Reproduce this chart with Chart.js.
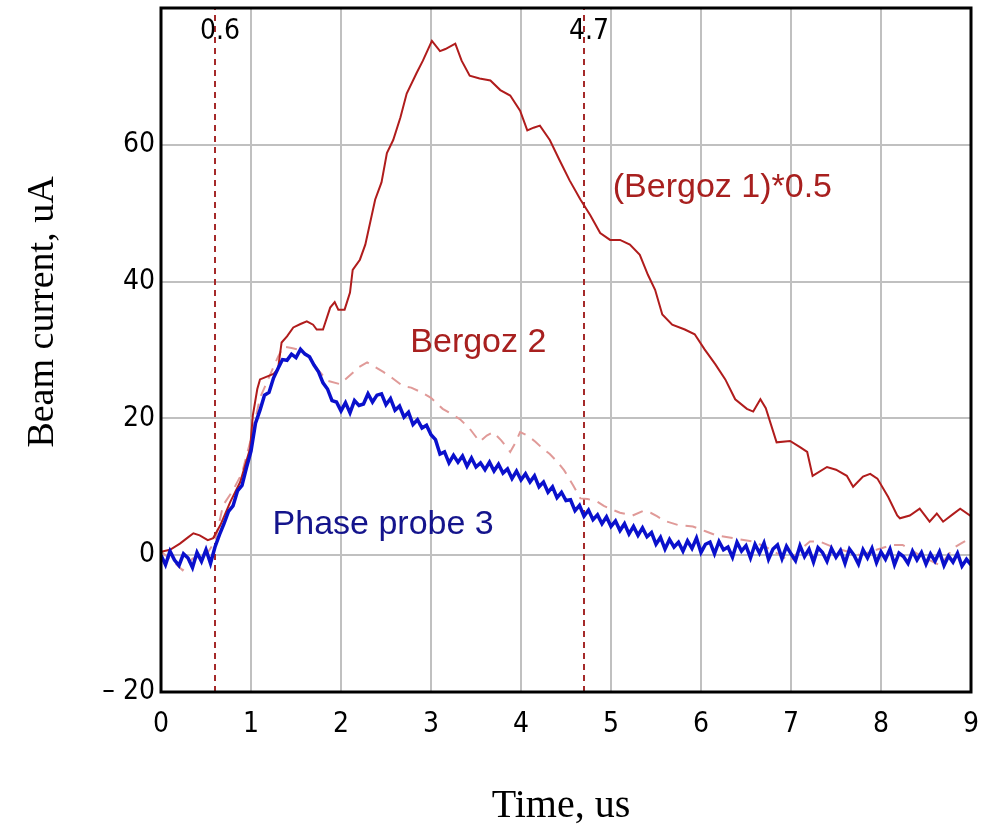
<!DOCTYPE html>
<html>
<head>
<meta charset="utf-8">
<script src="https://cdn.jsdelivr.net/npm/chart.js@4.4.1/dist/chart.umd.min.js"></script>
<style>
  html, body { margin: 0; padding: 0; background: #fff; }
  #wrap { width: 986px; height: 828px; }
</style>
</head>
<body>
<div id="wrap"><canvas id="beamChart" width="986" height="828"></canvas></div>
<script>
// Bergoz 1 (scaled by 0.5)
const bergoz1Times = [0, 0.1, 0.21, 0.3, 0.36, 0.43, 0.52, 0.58, 0.66, 0.77,
  0.88, 0.99, 1.02, 1.07, 1.1, 1.25, 1.3, 1.34, 1.4, 1.47,
  1.55, 1.62, 1.69, 1.73, 1.8, 1.88, 1.93, 1.97, 2.04, 2.1,
  2.13, 2.21, 2.27, 2.38, 2.45, 2.51, 2.58, 2.66, 2.73, 2.84,
  2.91, 3.01, 3.1, 3.16, 3.27, 3.34, 3.43, 3.54, 3.66, 3.77,
  3.88, 3.99, 4.07, 4.14, 4.21, 4.32, 4.43, 4.54, 4.66, 4.77,
  4.88, 4.99, 5.1, 5.21, 5.32, 5.41, 5.49, 5.57, 5.68, 5.82,
  5.93, 6.04, 6.16, 6.27, 6.38, 6.51, 6.58, 6.66, 6.72, 6.84,
  6.99, 7.1, 7.18, 7.24, 7.4, 7.5, 7.62, 7.69, 7.8, 7.88,
  7.96, 8.08, 8.18, 8.21, 8.32, 8.43, 8.54, 8.62, 8.69, 8.8,
  8.88, 9.0];
const bergoz1Values = [0.5, 0.8, 1.7, 2.6, 3.2, 2.9, 2.2, 2.5, 4.4, 7.8,
  10.7, 15.6, 20.4, 24.3, 25.7, 26.5, 27.2, 31.1, 32, 33.3,
  33.8, 34.2, 33.7, 33, 33, 36.2, 37, 35.9, 35.9, 38.4,
  41.7, 43.2, 45.4, 52, 54.5, 58.8, 60.7, 64, 67.5, 70.5,
  72.3, 75.2, 73.7, 74, 74.8, 72.3, 70.1, 69.7, 69.4, 68,
  67.2, 65, 62.1, 62.5, 62.8, 60.7, 57.7, 54.8, 52, 49.7,
  47.1, 46.1, 46.1, 45.4, 43.9, 41, 38.8, 35.2, 33.7, 33,
  32.3, 30.1, 27.9, 25.7, 22.8, 21.4, 21, 22.8, 21.5, 16.5,
  16.7, 15.8, 15.1, 11.6, 12.9, 12.5, 11.6, 10, 11.5, 11.9,
  11.2, 8.5, 5.8, 5.4, 5.8, 6.8, 4.9, 6.1, 4.9, 6,
  6.8, 5.7];

// Bergoz 2
const bergoz2Times = [0, 0.1, 0.24, 0.35, 0.5, 0.6, 0.69, 0.8, 0.9, 1.0,
  1.1, 1.2, 1.3, 1.36, 1.45, 1.55, 1.65, 1.75, 1.85, 1.99,
  2.1, 2.2, 2.29, 2.38, 2.47, 2.58, 2.69, 2.78, 2.88, 3.0,
  3.13, 3.22, 3.32, 3.43, 3.54, 3.62, 3.69, 3.78, 3.88, 3.94,
  3.99, 4.07, 4.16, 4.24, 4.32, 4.4, 4.48, 4.58, 4.66, 4.74,
  4.84, 4.92, 4.99, 5.1, 5.24, 5.36, 5.44, 5.51, 5.6, 5.75,
  5.91, 6.05, 6.17, 6.35, 6.58, 6.72, 6.88, 6.99, 7.1, 7.21,
  7.32, 7.5, 7.77, 7.95, 8.13, 8.24, 8.43, 8.55, 8.66, 8.8,
  8.9, 8.99];
const bergoz2Values = [0.5, -0.5, -2.2, -0.5, 0, 2, 7.3, 9.5, 12, 17,
  23, 26, 29, 30.5, 30.3, 30, 29, 27, 25.5, 25,
  26.3, 27.5, 28.2, 27.5, 26.8, 25.8, 24.7, 24.5, 23.9, 23,
  21.4, 20.7, 19.9, 18.5, 16.6, 17.5, 18, 16.8, 15.1, 16.5,
  18, 17.5, 16.6, 15.6, 14.8, 13.7, 12.4, 10.2, 8.3, 8.2,
  7.9, 7.2, 6.8, 6.2, 5.8, 6.5, 6.2, 5.7, 5, 4.4,
  4.2, 3.5, 2.9, 2.5, 2, 1.2, 0, -0.9, 0.8, 2,
  2, 1, 0, 0.8, 1.5, 1.5, 0, -0.8, -1.5, 1,
  1.8, 2.5];

// Phase probe 3, sampled every 0.05 us from 0 to 9
const probeStep = 0.05;
const probeValues = [
  0.0, -1.4, 0.6, -0.7, -1.5, 0.2, -0.4, -1.8, 0.4, -0.9,
  0.8, -1.2, 1.2, 3.0, 4.6, 6.4, 7.2, 9.4, 10.2, 12.8,
  15.2, 19.3, 21.2, 23.4, 23.8, 25.9, 27.3, 28.6, 28.5, 29.4,
  28.9, 30.1, 29.4, 29.0, 27.8, 26.8, 25.2, 24.3, 22.6, 22.4,
  21.1, 22.3, 20.8, 22.6, 21.9, 22.1, 23.6, 22.4, 23.4, 23.6,
  22.0, 22.9, 21.2, 21.8, 20.2, 20.9, 19.1, 19.8, 18.6, 19.0,
  17.6, 16.9, 14.8, 15.1, 13.5, 14.6, 13.6, 14.5, 13.0, 14.2,
  12.9, 13.5, 12.5, 13.6, 12.3, 13.3, 12.0, 12.6, 11.2, 12.3,
  11.0, 11.9, 10.7, 11.6, 10.0, 10.7, 9.2, 10.0, 8.4, 9.2,
  8.0, 8.1, 6.5, 7.3, 5.7, 6.6, 5.2, 5.9, 4.6, 5.6,
  4.2, 5.0, 3.6, 4.6, 3.1, 4.2, 2.9, 4.0, 2.7, 3.3,
  1.6, 2.6, 0.9, 2.3, 1.2, 1.9, 0.6, 2.1, 1.0, 2.5,
  0.4, 1.6, 1.9, 0.2, 2.0, 0.8, 1.2, -0.3, 1.9, 0.6,
  1.4, -0.4, 1.6, 0.3, 1.8, -0.6, 0.9, 1.5, -0.5, 1.3,
  0.2, -0.8, 1.4, -0.2, 0.9, -1.0, 1.1, 0.4, -0.9, 1.0,
  -0.3, 0.7, -1.2, 0.9, 0.0, -1.3, 0.8, -0.4, 1.0, -1.1,
  0.5, -0.6, 0.9, -1.4, 0.3, -0.2, -1.2, 0.6, -0.7, 0.4,
  -1.3, 0.2, -0.9, 0.5, -1.5, -0.1, -1.0, 0.3, -1.6, -0.6,
  -1.4];

// vertical markers
const markerTimes = [0.6, 4.7];

// axes
const xTicks = [0, 1, 2, 3, 4, 5, 6, 7, 8, 9];
const yTicks = [-20, 0, 20, 40, 60, 80];

const seriesLabels = [
  { text: '(Bergoz 1)*0.5', t: 5.02, v: 53.8, color: '#a8201f' },
  { text: 'Bergoz 2', t: 2.77, v: 31.1, color: '#a8201f' },
  { text: 'Phase probe 3', t: 1.24, v: 4.4, color: '#14148c' }
];

const zip = (ts, vs) => ts.map((t, i) => ({ x: t, y: vs[i] }));
const probePoints = probeValues.map((v, i) => ({ x: +(i * probeStep).toFixed(2), y: v }));

const markerSets = markerTimes.map(t => ({
  data: [{ x: t, y: yTicks[0] }, { x: t, y: yTicks[yTicks.length - 1] }],
  borderColor: '#a52a2a',
  borderWidth: 2,
  borderDash: [6, 5],
  pointRadius: 0
}));

const overlay = {
  id: 'overlay',
  afterDatasetsDraw(chart) {
    const { ctx, chartArea: a, scales: { x, y } } = chart;
    ctx.save();

    ctx.fillStyle = '#000';
    ctx.font = '28px "Liberation Sans Narrow", "DejaVu Sans Condensed", "Liberation Sans", sans-serif';
    ctx.textAlign = 'center';
    ctx.textBaseline = 'top';
    markerTimes.forEach(t => {
      ctx.fillText(String(t), x.getPixelForValue(t) + 5, a.top + 10);
    });

    ctx.font = '34px "Liberation Sans", Arial, sans-serif';
    ctx.textAlign = 'left';
    ctx.textBaseline = 'middle';
    seriesLabels.forEach(l => {
      ctx.fillStyle = l.color;
      ctx.fillText(l.text, x.getPixelForValue(l.t), y.getPixelForValue(l.v));
    });

    ctx.strokeStyle = '#000';
    ctx.lineWidth = 3;
    ctx.strokeRect(a.left, a.top, a.right - a.left, a.bottom - a.top);

    // axis titles
    ctx.fillStyle = '#000';
    ctx.textAlign = 'center';
    ctx.textBaseline = 'middle';
    ctx.font = '40px "Liberation Serif", "Times New Roman", serif';
    ctx.fillText('Time, us', (a.left + a.right) / 2 - 5, 806);
    ctx.translate(43, 312);
    ctx.rotate(-Math.PI / 2);
    ctx.font = '38px "Liberation Serif", "Times New Roman", serif';
    ctx.fillText('Beam current, uA', 0, 0);
    ctx.restore();
  }
};

const tickFont = { family: '"Liberation Sans Narrow", "DejaVu Sans Condensed", "Liberation Sans", sans-serif', size: 28 };

new Chart(document.getElementById('beamChart'), {
  type: 'line',
  data: {
    datasets: [
      {
        label: 'Phase probe 3',
        data: probePoints,
        borderColor: '#0a10cc',
        borderWidth: 3.5,
        pointRadius: 0,
        tension: 0
      },
      {
        label: '(Bergoz 1)*0.5',
        data: zip(bergoz1Times, bergoz1Values),
        borderColor: '#b01c1c',
        borderWidth: 2,
        pointRadius: 0,
        tension: 0
      },
      {
        label: 'Bergoz 2',
        data: zip(bergoz2Times, bergoz2Values),
        borderColor: '#e09a98',
        borderWidth: 2,
        borderDash: [11, 8],
        pointRadius: 0,
        tension: 0
      },
      ...markerSets
    ]
  },
  options: {
    responsive: false,
    animation: false,
    parsing: false,
    layout: { padding: { top: 8, right: 15, left: 0, bottom: 0 } },
    plugins: {
      legend: { display: false },
      tooltip: { enabled: false }
    },
    scales: {
      x: {
        type: 'linear',
        min: xTicks[0],
        max: xTicks[xTicks.length - 1],
        afterBuildTicks: s => { s.ticks = xTicks.map(v => ({ value: v })); },
        afterFit: s => { s.height = 136; s.paddingLeft = 0; s.paddingRight = 0; },
        grid: { color: '#c0c0c0', lineWidth: 2, drawTicks: false },
        border: { display: false },
        ticks: { color: '#000', font: tickFont, padding: 16, maxRotation: 0 }
      },
      y: {
        type: 'linear',
        min: yTicks[0],
        max: yTicks[yTicks.length - 1],
        afterBuildTicks: s => { s.ticks = yTicks.map(v => ({ value: v })); },
        afterFit: s => { s.width = 161; s.paddingTop = 0; s.paddingBottom = 0; },
        grid: { color: '#c0c0c0', lineWidth: 2, drawTicks: false },
        border: { display: false },
        ticks: {
          color: '#000',
          font: tickFont,
          padding: 6,
          callback: v => v === 80 ? '' : (v < 0 ? '\u2013 ' + Math.abs(v) : String(v))
        }
      }
    }
  },
  plugins: [overlay]
});
</script>
</body>
</html>
